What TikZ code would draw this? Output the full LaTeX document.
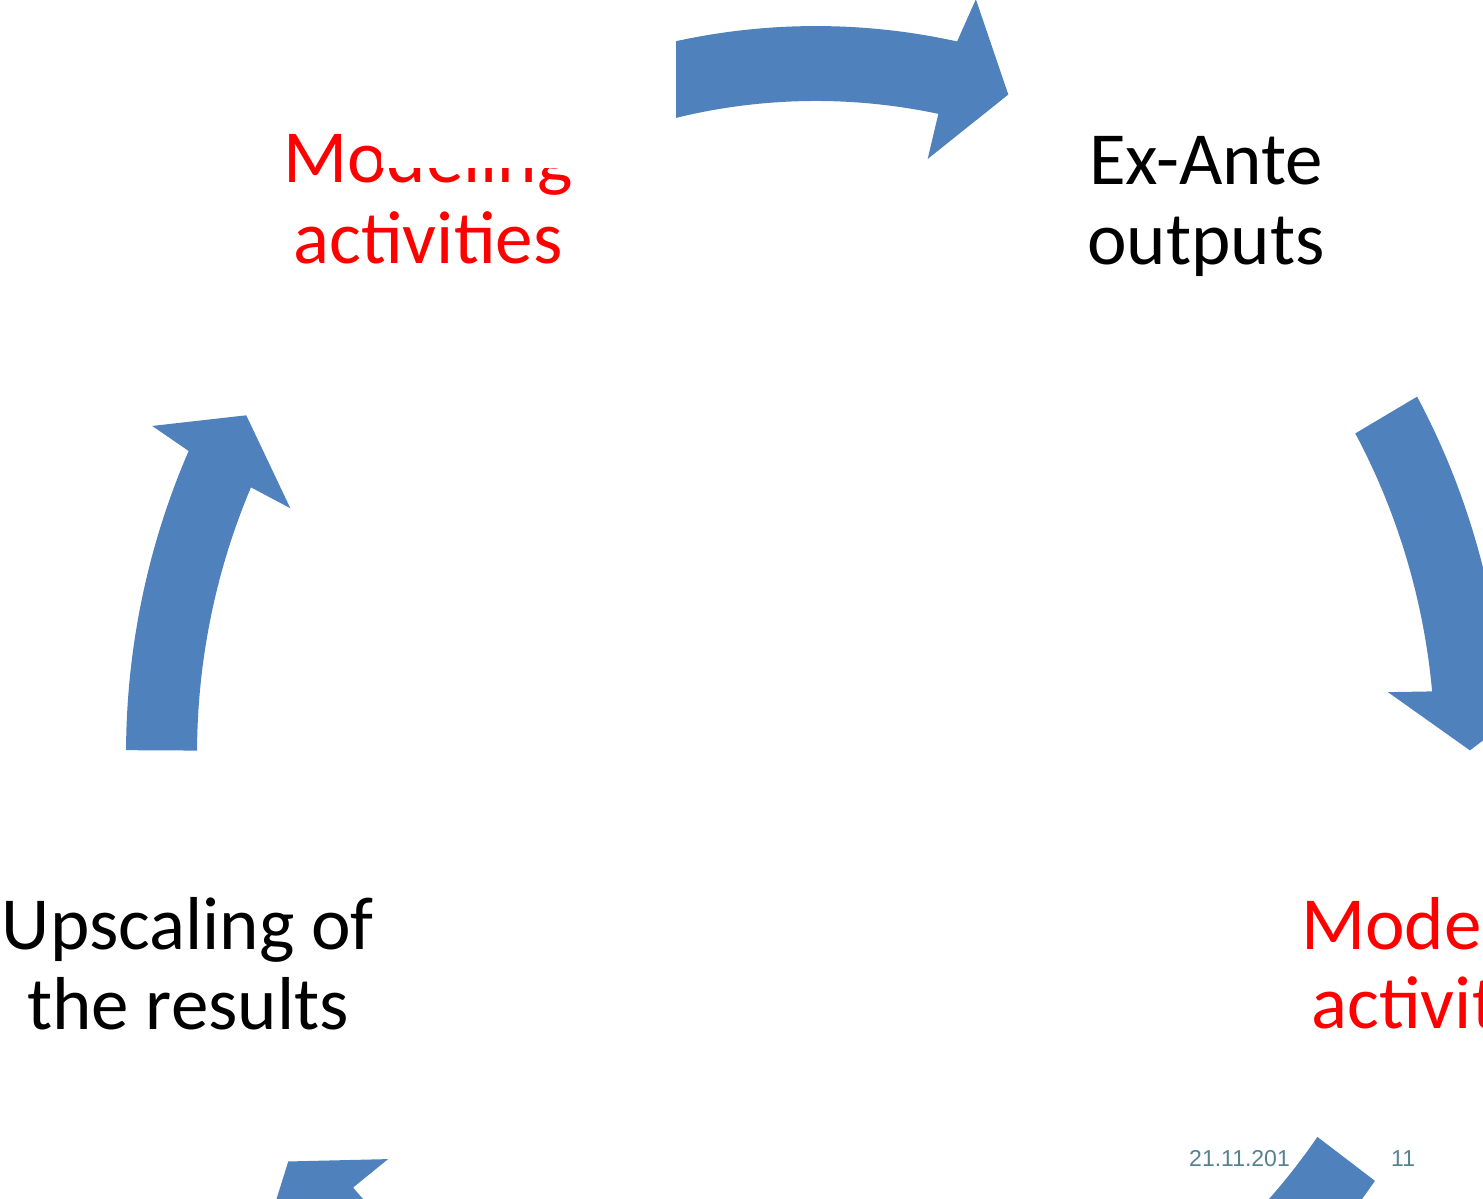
\documentclass[tikz,border=0pt]{standalone}
\usepackage{fontspec}
\setmainfont{Carlito}
\newfontfamily\footfont{Liberation Sans}
\definecolor{arrowblue}{RGB}{79,129,189}
\definecolor{footgrey}{RGB}{86,130,143}
\definecolor{labelred}{RGB}{255,0,0}
% #1 tail, #2 inner junction, #3 outer junction, #4 inner barb, #5 outer barb, #6 tip
\newcommand\cyclearrow[6]{%
  \fill[arrowshape] (#1:690) arc[start angle=#1, end angle=#3, radius=690]
    -- (#5:733) -- (#6:654) -- (#4:575) -- (#2:619)
    arc[start angle=#2, end angle=#1, radius=619] -- cycle;}
\begin{document}
\begin{tikzpicture}[x=1pt,y=1pt,
  lbl/.style={inner sep=0pt, anchor=base, font=\fontsize{75}{80}\selectfont},
  redlbl/.style={lbl, text=labelred},
  foot/.style={inner sep=0pt, anchor=base west, text=footgrey, font=\footfont\fontsize{23}{26}\selectfont},
  arrowshape/.style={fill=arrowblue}]
\useasboundingbox[fill=white] (0,0) rectangle (1483,1199);

% labels (pixel y -> 1199 - y)
\node[redlbl] (mod1a) at (428,1016) {Modeling};
\node[redlbl] (mod1b) at (428,935) {activities};
\node[lbl] (exa) at (1206,1014) {Ex-Ante};
\node[lbl] (exb) at (1206,934) {outputs};
\node[lbl] (upa) at (188,249) {Upscaling of};
\node[lbl] (upb) at (188,169) {the results};
\node[redlbl] (mod2a) at (1446,249) {Modeling};
\node[redlbl] (mod2b) at (1446,170) {activities};

% footer
\node[foot] (date) at (1189,32) {21.11.201};
\node[foot] (page) at (1391,32) {11};

% cycle arrows
\begin{scope}[shift={(816,445)}, yscale=1.055]
  \cyclearrow{107}{78.6}{78.2}{78.8}{77.4}{72.9}
  \cyclearrow{29.4}{5.5}{5.1}{5.85}{4.6}{0.3}
  \cyclearrow{-35.9}{-59.6}{-60}{-59.4}{-60.8}{-65}
  \cyclearrow{245}{221.6}{221.2}{221.9}{220.5}{216.2}
  \cyclearrow{179.7}{155.9}{155.4}{156.1}{154.9}{150.6}
\end{scope}

% opaque box that hides part of the top label and the tail of the top arrow
\fill[white] (381,1031) rectangle (675.5,1199);
\end{tikzpicture}
\end{document}
